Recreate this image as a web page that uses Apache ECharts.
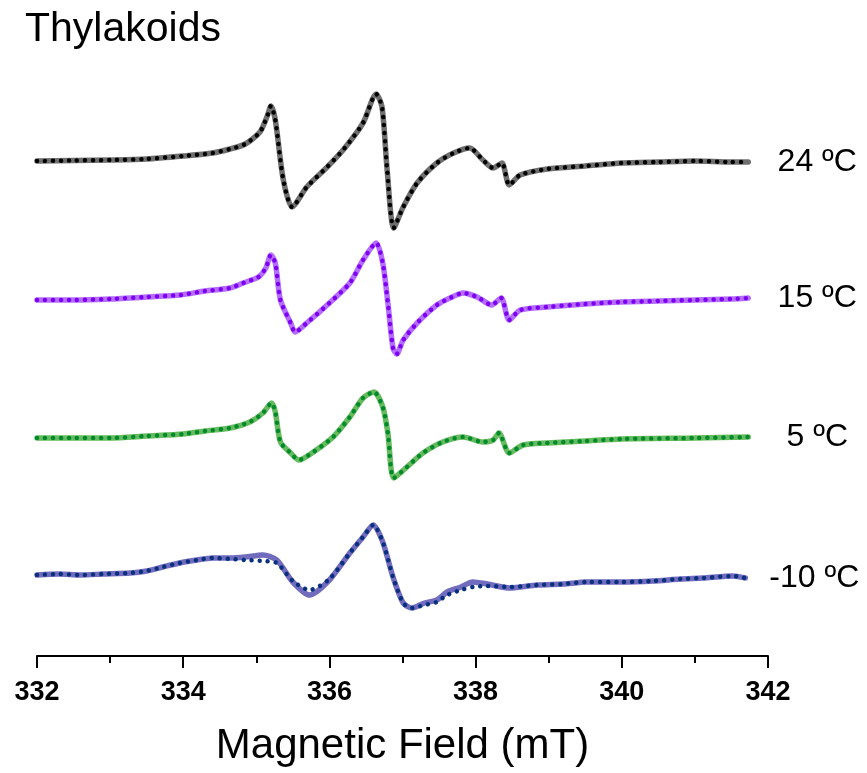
<!DOCTYPE html>
<html>
<head>
<meta charset="utf-8">
<script src="https://cdn.jsdelivr.net/npm/echarts@6/dist/echarts.min.js"></script>
<style>html,body{margin:0;padding:0;background:#fff}#c{width:867px;height:773px}</style>
</head>
<body>
<div id="c"></div>
<script>
// Field (mT) vs EPR signal (arbitrary units, relative to each trace's baseline)
const exp24 = [[332.0,0],[332.5,0.5],[333.0,1],[333.5,2],[334.0,5],[334.4,8],[334.64,12],[334.85,17],[335.05,29],[335.15,45],[335.20,55],[335.26,41],[335.37,-19],[335.49,-46],[335.69,-26],[335.97,-6],[336.21,13],[336.46,38],[336.64,67],[336.72,54],[336.79,-9],[336.88,-67],[337.01,-46],[337.20,-22],[337.47,-2],[337.70,8],[337.92,13],[338.10,1],[338.24,-7],[338.36,-2],[338.46,-24],[338.61,-14],[338.98,-8],[339.5,-5],[340.0,-2],[340.5,-1],[341.0,0],[341.5,-1],[341.73,-1]];
const sim24 = exp24;
const exp15 = [[332.0,0],[332.5,0],[333.0,1],[333.5,3],[333.96,5],[334.3,9],[334.64,12],[334.82,17],[335.03,23],[335.13,32],[335.20,45],[335.26,37],[335.33,0],[335.47,-23],[335.53,-32],[335.69,-23],[336.0,-3],[336.28,17],[336.46,40],[336.64,57],[336.73,37],[336.80,-3],[336.87,-48],[336.92,-54],[337.01,-40],[337.20,-23],[337.47,-5],[337.65,2],[337.83,7],[338.02,3],[338.22,-5],[338.35,2],[338.46,-20],[338.61,-10],[338.98,-7],[339.5,-4],[340.0,-2],[340.5,-1],[341.0,0],[341.5,1],[341.73,2]];
const sim15 = exp15;
const exp5 = [[332.0,0],[332.5,0],[333.0,0],[333.5,2],[334.0,4],[334.3,7],[334.64,10],[334.91,16],[335.09,25],[335.21,35],[335.26,26],[335.33,-4],[335.47,-15],[335.58,-22],[335.78,-14],[336.05,1],[336.28,21],[336.46,40],[336.61,46],[336.73,31],[336.80,5],[336.88,-40],[337.06,-29],[337.28,-15],[337.55,-4],[337.83,1],[338.10,-4],[338.24,-2],[338.32,5],[338.46,-15],[338.65,-7],[338.98,-5],[339.5,-3],[340.0,-1],[341.0,0],[341.73,1]];
const sim5 = exp5;
const expM10 = [[332.0,0],[332.3,1],[332.6,0],[332.9,1],[333.27,2],[333.5,4],[333.72,8],[333.95,12],[334.19,15],[334.4,17],[334.64,17],[334.85,18],[335.09,20],[335.28,15],[335.50,-7],[335.73,-20],[336.0,-5],[336.28,22],[336.46,38],[336.60,50],[336.73,33],[336.87,-2],[337.01,-28],[337.13,-33],[337.30,-28],[337.47,-25],[337.61,-17],[337.80,-12],[337.96,-7],[338.16,-9],[338.47,-13],[338.84,-10],[339.2,-9],[339.52,-7],[340.0,-7],[340.43,-6],[340.8,-4],[341.11,-3],[341.52,-1],[341.69,-3]];
const simM10 = [[332.0,0],[332.3,1],[332.6,0],[332.9,1],[333.27,2],[333.5,4],[333.72,8],[333.95,12],[334.19,15],[334.4,17],[334.64,16],[334.85,15],[335.09,14],[335.28,12],[335.50,-6],[335.73,-15],[336.0,-4],[336.28,22],[336.46,38],[336.60,50],[336.73,33],[336.87,-2],[337.01,-28],[337.13,-33],[337.30,-30],[337.47,-27],[337.61,-20],[337.80,-15],[337.96,-12],[338.16,-11],[338.47,-12],[338.84,-10],[339.2,-9],[339.52,-7],[340.0,-7],[340.43,-6],[340.8,-4],[341.11,-3],[341.52,-1],[341.69,-3]];
const offsets = [495, 356, 218, 81];
const tempLabels = ['24 ºC', '15 ºC', '5 ºC', '-10 ºC'];
const xTicks = [332, 334, 336, 338, 340, 342];

const traces = [
  {exp: exp24, sim: sim24, solid: '#6f6f6f', dot: '#000000'},
  {exp: exp15, sim: sim15, solid: '#b56dff', dot: '#7d00ef'},
  {exp: exp5,  sim: sim5,  solid: '#67bb5f', dot: '#008a2c'},
  {exp: expM10, sim: simM10, solid: '#716cbd', dot: '#08307f'}
];

const series = [];
traces.forEach((t, i) => {
  const off = offsets[i];
  series.push({
    type: 'line', data: t.exp.map(p => [p[0], p[1] + off]),
    showSymbol: false, smooth: 0.25, silent: true,
    lineStyle: {color: t.solid, width: 5.5, cap: 'round', join: 'round'}
  });
  series.push({
    type: 'line', data: t.sim.map(p => [p[0], p[1] + off]),
    showSymbol: false, smooth: 0.25, silent: true,
    lineStyle: {color: t.dot, width: 4.5, type: [0.01, 8], cap: 'round'},
    endLabel: {show: true, formatter: () => tempLabels[i], color: '#000',
      fontFamily: 'Liberation Sans, Arial, sans-serif', fontSize: 32,
      align: 'center', distance: 69}
  });
});

const chart = echarts.init(document.getElementById('c'), null, {renderer: 'canvas'});
chart.setOption({
  animation: false,
  backgroundColor: '#fff',
  title: {text: 'Thylakoids', left: 20, top: 4,
    textStyle: {fontFamily: 'Liberation Sans, Arial, sans-serif', fontSize: 41, fontWeight: 'normal', color: '#000'}},
  grid: {left: 37, right: 99, top: 56, bottom: 117, containLabel: false, outerBoundsMode: 'none'},
  xAxis: {
    type: 'value', min: 332, max: 342, interval: 2,
    axisLine: {show: true, onZero: false, lineStyle: {color: '#000', width: 2}},
    axisTick: {show: true, length: 12, lineStyle: {color: '#000', width: 2}},
    minorTick: {show: true, splitNumber: 2, length: 7, lineStyle: {color: '#000', width: 2}},
    splitLine: {show: false},
    axisLabel: {margin: 23, fontSize: 27, fontWeight: 'bold', color: '#000',
      fontFamily: 'Liberation Sans Narrow, Arial Narrow, Liberation Sans, sans-serif',
      formatter: v => xTicks.includes(v) ? String(v) : ''},
    name: 'Magnetic Field (mT)', nameLocation: 'middle', nameGap: 69,
    nameTextStyle: {fontSize: 42, color: '#000', fontFamily: 'Liberation Sans, Arial, sans-serif'}
  },
  yAxis: {type: 'value', min: 0, max: 600, show: false},
  series: series
});
</script>
</body>
</html>
